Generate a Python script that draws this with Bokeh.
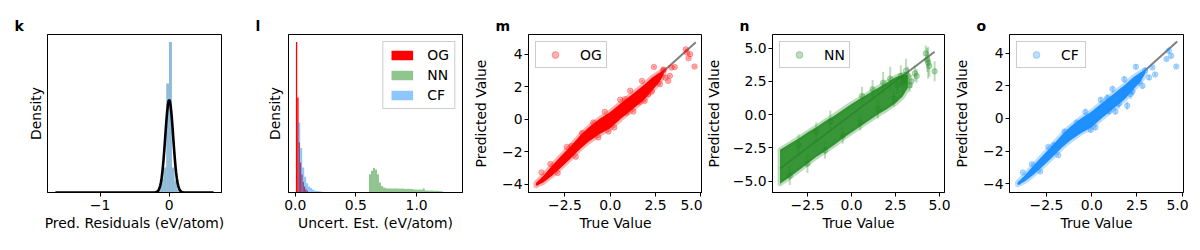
import numpy as np
from bokeh.plotting import figure
from bokeh.layouts import row
from bokeh.models import (Range1d, FixedTicker, CustomJSTickFormatter, Legend,
                          LegendItem)
from bokeh.embed import file_html
from bokeh.resources import INLINE

FONT = "DejaVu Sans"
FS = "13.9px"

# ------------------------------------------------------------------ data
# panel k : residual histogram + fitted normal curve
k_edges = [-0.163, -0.124, -0.085, -0.0435, -0.004, 0.039, 0.078, 0.117, 0.156]
k_density = [0.02, 0.088, 0.166, 0.724, 1.0, 0.166, 0.08, 0.02]
k_fit_x = [-1.645, -0.30, -0.20, -0.18, -0.16, -0.15, -0.14, -0.13, -0.12, -0.11,
           -0.10, -0.09, -0.08, -0.07, -0.06, -0.05, -0.04, -0.03, -0.02, -0.01,
           0.0, 0.01, 0.02, 0.03, 0.04, 0.05, 0.06, 0.07, 0.08, 0.09, 0.10, 0.11,
           0.12, 0.13, 0.14, 0.15, 0.16, 0.18, 0.20, 0.30, 0.642]
k_fit_y = [0.0, 0.0, 0.001, 0.004, 0.012, 0.019, 0.030, 0.046, 0.067, 0.095,
           0.132, 0.177, 0.230, 0.290, 0.353, 0.419, 0.481, 0.535, 0.578, 0.606,
           0.615, 0.606, 0.578, 0.535, 0.481, 0.419, 0.353, 0.290, 0.230, 0.177,
           0.132, 0.095, 0.067, 0.046, 0.030, 0.019, 0.012, 0.004, 0.001, 0.0, 0.0]

# panel l : uncertainty histograms
og_start, og_width = 0.006, 0.011
og_density = [1.0, 0.632, 0.333, 0.2, 0.12, 0.07, 0.04, 0.022, 0.012]
nn_start, nn_width = 0.608, 0.0164
nn_density = [0.122, 0.144, 0.162, 0.153, 0.122, 0.067, 0.044, 0.033,
              0.028, 0.027, 0.027, 0.026, 0.027, 0.026, 0.026, 0.025, 0.026,
              0.025, 0.024, 0.025, 0.024, 0.023,
              0.02, 0.02, 0.019, 0.02, 0.018, 0.027,
              0.013, 0.013, 0.012, 0.013, 0.012, 0.011, 0.012, 0.01, 0.009]
cf_start, cf_width = 0.025, 0.0164
cf_density = [0.466, 0.295, 0.166, 0.104, 0.062, 0.04, 0.03, 0.02, 0.012,
              0.01, 0.008, 0.006]

# parity panels
true_min, true_max = -4.05, 4.72

m_band_x = [-4.1, -3.7, -3.2, -2.7, -2.2, -1.65, -1.2, -0.6, 0.0, 0.6, 1.2, 1.84, 2.3, 2.7, 2.95]
m_band_lo = [-4.08, -3.88, -3.45, -2.95, -2.43, -1.81, -1.39, -0.92, -0.56, 0.04, 0.58, 1.17, 1.75, 2.25, 2.73]
m_band_hi = [-3.92, -3.48, -2.85, -2.25, -1.67, -0.99, -0.51, 0.02, 0.44, 1.0, 1.52, 2.09, 2.55, 2.85, 2.97]
m_out_true = [2.41, 2.92, 3.38, 3.56, 3.29, 3.2, 2.74, 2.1, 1.9, 1.27, 0.22, -0.66, -0.94,
              4.23, 4.32, 4.17, 4.65, 4.41, -3.79, -2.13, 0.81, 3.05, 2.95, 1.6,
              -3.3, -2.4, -1.55, -0.3, 0.55, 1.1, 1.75, -2.9, -1.9, -0.1, 0.9, 2.3]
m_out_pred = [3.21, 3.0, 3.17, 3.2, 2.66, 2.35, 2.15, 1.53, 1.12, 0.47, -0.51, -1.12, -0.2,
              4.09, 3.74, 4.29, 3.23, 3.99, -3.27, -1.64, 1.23, 2.55, 3.05, 1.05,
              -2.75, -1.7, -0.85, 0.45, 1.2, 1.75, 2.35, -3.3, -2.3, -0.75, 0.4, 1.7]
m_out_err = [0.05, 0.04, 0.06, 0.05, 0.05, 0.04, 0.05, 0.04, 0.05, 0.04, 0.03, 0.04, 0.03,
             0.06, 0.05, 0.06, 0.05, 0.05, 0.02, 0.03, 0.04, 0.05, 0.05, 0.04,
             0.03, 0.03, 0.04, 0.04, 0.04, 0.05, 0.05, 0.03, 0.03, 0.04, 0.04, 0.05]

n_band_x = [-4.05, -3.5, -3.0, -2.5, -2.0, -1.5, -1.0, -0.5, 0.0, 0.5, 1.0, 1.5, 2.0, 2.5, 2.9, 3.2]
n_band_lo = [-5.2, -4.7, -4.2, -3.7, -3.2, -2.75, -2.3, -1.8, -1.35, -0.9, -0.45, 0.0, 0.4, 0.85, 1.35, 2.0]
n_band_hi = [-2.65, -2.2, -1.8, -1.35, -0.95, -0.5, -0.1, 0.35, 0.8, 1.2, 1.6, 2.0, 2.4, 2.8, 3.0, 3.0]
n_out_true = [2.9, 3.0, 3.2, 3.4, 3.6, 3.3, 3.7, 2.8, 4.22, 4.35, 4.42, 4.3, 4.72, 3.1, 2.6,
              -3.0, -2.0, -1.2, 0.6, 1.2, 1.8, 2.2, -3.5, -2.5, -1.5, -0.5, 0.5, 1.5, 2.4]
n_out_pred = [2.4, 2.6, 2.9, 2.5, 3.1, 2.2, 2.9, 2.9, 4.6, 3.9, 3.65, 4.1, 3.25, 3.3, 2.2,
              -2.3, -1.3, -0.5, 1.4, 1.9, 2.4, 2.7, -4.6, -3.7, -2.7, -1.6, -0.6, 0.4, 1.2]
n_out_err = [0.7, 0.6, 0.7, 0.5, 0.6, 0.5, 0.5, 0.8, 0.6, 1.2, 0.8, 0.9, 0.75, 0.9, 0.6,
             0.8, 0.7, 0.8, 0.7, 0.7, 0.8, 0.9, 0.7, 0.7, 0.6, 0.6, 0.6, 0.7, 0.6]

o_band_x = [-4.1, -3.7, -3.2, -2.7, -2.2, -1.65, -1.2, -0.6, 0.0, 0.6, 1.2, 1.84, 2.3, 2.7, 2.95]
o_band_lo = [-4.07, -3.86, -3.43, -2.93, -2.41, -1.79, -1.37, -0.9, -0.54, 0.06, 0.6, 1.19, 1.77, 2.27, 2.74]
o_band_hi = [-3.93, -3.5, -2.87, -2.27, -1.69, -1.01, -0.53, 0.0, 0.42, 0.98, 1.5, 2.07, 2.53, 2.83, 2.96]
o_out_true = [2.44, 4.67, 4.26, 4.39, 4.13, 3.35, 3.17, 2.8, 2.15, 1.96, 1.31, 0.2, -0.82,
              -3.8, 2.95, 3.5, 1.5, -2.1, 0.85, 2.6,
              -3.3, -2.4, -1.5, -0.35, 0.5, 1.15, 1.8, -2.85, -1.85, -0.05, 0.95, 2.25]
o_out_pred = [3.17, 3.19, 4.15, 3.84, 3.64, 3.13, 2.51, 2.0, 1.49, 0.78, 0.43, -0.55, -0.25,
              -3.32, 2.95, 2.7, 0.9, -1.65, 1.25, 2.3,
              -2.8, -1.75, -0.8, 0.4, 1.15, 1.8, 2.4, -3.25, -2.25, -0.7, 0.45, 1.65]
o_out_err = [0.15, 0.1, 0.2, 0.15, 0.1, 0.1, 0.15, 0.2, 0.3, 0.25, 0.2, 0.15, 0.1,
             0.05, 0.15, 0.1, 0.3, 0.2, 0.25, 0.3,
             0.08, 0.1, 0.15, 0.2, 0.15, 0.2, 0.2, 0.08, 0.1, 0.15, 0.2, 0.2]

# ------------------------------------------------------------------ helpers
FMT = """
const s = Math.abs(tick).toFixed(dec);
return (tick < -1e-9 ? "\u2212" : "") + s;
"""

H = 242
TOP = 34
BOTTOM = 50


def make_fig(letter, width, mbl, mbr, xr, yr):
    p = figure(width=width, height=H, x_range=Range1d(*xr), y_range=Range1d(*yr),
               toolbar_location=None, output_backend="svg", title=letter,
               min_border_left=mbl, min_border_right=mbr,
               min_border_top=TOP, min_border_bottom=BOTTOM)
    p.grid.visible = False
    p.outline_line_color = "black"
    p.outline_line_alpha = 1
    p.outline_line_width = 1
    p.background_fill_color = "white"
    p.border_fill_color = "white"
    p.title.align = "left"
    p.title.offset = -33
    p.title.text_font = FONT
    p.title.text_font_size = "14px"
    p.title.text_font_style = "bold"
    p.title.text_color = "black"
    p.title.standoff = 1
    return p


def style_axis(ax, ticks, dec, label, tick_out=4, lab_standoff=3, axlab_standoff=2):
    ax.ticker = FixedTicker(ticks=ticks)
    ax.formatter = CustomJSTickFormatter(args=dict(dec=dec), code=FMT)
    ax.axis_label = label
    ax.axis_label_text_font = FONT
    ax.axis_label_text_font_size = FS
    ax.axis_label_text_font_style = "normal"
    ax.axis_label_text_color = "black"
    ax.major_label_text_font = FONT
    ax.major_label_text_font_size = FS
    ax.major_label_text_color = "black"
    ax.major_tick_in = 0
    ax.major_tick_out = tick_out
    ax.minor_tick_line_color = None
    ax.axis_line_color = "black"
    ax.major_tick_line_color = "black"
    ax.major_label_standoff = lab_standoff
    ax.axis_label_standoff = axlab_standoff


def legend_style(lg):
    lg.label_text_font = FONT
    lg.label_text_font_size = FS
    lg.label_text_color = "black"
    lg.border_line_color = "#cccccc"
    lg.border_line_alpha = 1
    lg.background_fill_alpha = 0.8


def hist_edges(start, width, n):
    left = [start + i * width for i in range(n)]
    right = [start + (i + 1) * width for i in range(n)]
    return left, right


def parity_panel(letter, width, mbl, mbr, xr, yr, yticks, ydec, color, label,
                 bx, blo, bhi, ox, oy, oe, band_alpha, axlab_standoff):
    p = make_fig(letter, width, mbl, mbr, xr, yr)
    style_axis(p.xaxis[0], [-2.5, 0.0, 2.5, 5.0], 1, "True Value")
    style_axis(p.yaxis[0], yticks, ydec, "Predicted Value", lab_standoff=2,
               axlab_standoff=axlab_standoff)
    # identity line (underneath the points)
    p.line([true_min, true_max], [true_min, true_max], line_color="black",
           line_alpha=0.5, line_width=2, level="underlay")
    # dense cloud of points
    px = list(bx) + list(bx)[::-1]
    py = list(blo) + list(bhi)[::-1]
    p.patch(px, py, fill_color=color, fill_alpha=band_alpha, line_color=color,
            line_alpha=0.3, line_width=5, line_join="round")
    # individual points with error bars
    oy_lo = [y - e for y, e in zip(oy, oe)]
    oy_hi = [y + e for y, e in zip(oy, oe)]
    p.segment(x0=ox, y0=oy_lo, x1=ox, y1=oy_hi, line_color=color, line_alpha=0.3,
              line_width=2)
    sc = p.scatter(ox, oy, size=5.5, marker="circle", fill_color=color, fill_alpha=0.3,
                   line_color=color, line_alpha=0.3, line_width=1)
    lg = Legend(items=[LegendItem(label=label, renderers=[sc])], location="top_left",
                margin=7, padding=4, glyph_width=30, glyph_height=17, label_height=17,
                label_standoff=10)
    legend_style(lg)
    p.add_layout(lg)
    # vertical error-bar stroke for the legend handle
    eb = p.quad(left=[], right=[], top=[], bottom=[], fill_color=color, fill_alpha=0.3,
                line_color=None)
    lg2 = Legend(items=[LegendItem(label=" ", renderers=[eb])], location=(25, 127),
                 margin=0, padding=0, spacing=0, glyph_width=2, glyph_height=12,
                 label_height=17, label_standoff=0, border_line_color=None,
                 background_fill_alpha=0, label_text_font_size=FS)
    p.add_layout(lg2)
    return p


# ------------------------------------------------------------------ panel k
pk = make_fig("k", 248, 47, 27, (-1.76, 0.756), (0, 1.05))
style_axis(pk.xaxis[0], [-1, 0], 0, "Pred. Residuals (eV/atom)")
style_axis(pk.yaxis[0], [], 0, "Density", tick_out=0, lab_standoff=0, axlab_standoff=4)
pk.quad(left=k_edges[:-1], right=k_edges[1:], top=k_density, bottom=0,
        fill_color="#1f77b4", fill_alpha=0.5, line_color=None)
pk.line(k_fit_x, k_fit_y, line_color="black", line_width=2.6)

# ------------------------------------------------------------------ panel l
pl = make_fig("l", 222, 40, 8, (-0.055, 1.378), (0, 1.05))
style_axis(pl.xaxis[0], [0.0, 0.5, 1.0], 1, "Uncert. Est. (eV/atom)")
style_axis(pl.yaxis[0], [], 0, "Density", tick_out=0, lab_standoff=0, axlab_standoff=6)
ogl, ogr = hist_edges(og_start, og_width, len(og_density))
nnl, nnr = hist_edges(nn_start, nn_width, len(nn_density))
cfl, cfr = hist_edges(cf_start, cf_width, len(cf_density))
r_og = pl.quad(left=ogl, right=ogr, top=og_density, bottom=0, fill_color="#ff0000",
               fill_alpha=1.0, line_color=None)
r_nn = pl.quad(left=nnl, right=nnr, top=nn_density, bottom=0, fill_color="#228b22",
               fill_alpha=0.5, line_color=None)
r_cf = pl.quad(left=cfl, right=cfr, top=cf_density, bottom=0, fill_color="#1e90ff",
               fill_alpha=0.5, line_color=None)
lgl = Legend(items=[LegendItem(label="OG", renderers=[r_og]),
                    LegendItem(label="NN", renderers=[r_nn]),
                    LegendItem(label="CF", renderers=[r_cf])],
             location="top_right", margin=7, padding=5, spacing=4, glyph_width=27,
             glyph_height=12, label_height=16, label_standoff=12)
legend_style(lgl)
pl.add_layout(lgl)

# ------------------------------------------------------------------ panels m, n, o
pm = parity_panel("m", 232, 58, 0, (-4.51, 5.09), (-4.5, 5.2), [-4, -2, 0, 2, 4], 0,
                  "#ff0000", "OG", m_band_x, m_band_lo, m_band_hi,
                  m_out_true, m_out_pred, m_out_err, 1.0, 10)
pn = parity_panel("n", 248, 67, 6, (-4.48, 5.28), (-5.86, 6.02), [-5, -2.5, 0, 2.5, 5], 1,
                  "#228b22", "NN", n_band_x, n_band_lo, n_band_hi,
                  n_out_true, n_out_pred, n_out_err, 0.9, 8)
po = parity_panel("o", 238, 59, 5, (-4.54, 5.07), (-4.54, 5.15), [-4, -2, 0, 2, 4], 0,
                  "#1e90ff", "CF", o_band_x, o_band_lo, o_band_hi,
                  o_out_true, o_out_pred, o_out_err, 1.0, 10)

layout = row(pk, pl, pm, pn, po)
open("out.html", "w").write(file_html(layout, INLINE))
